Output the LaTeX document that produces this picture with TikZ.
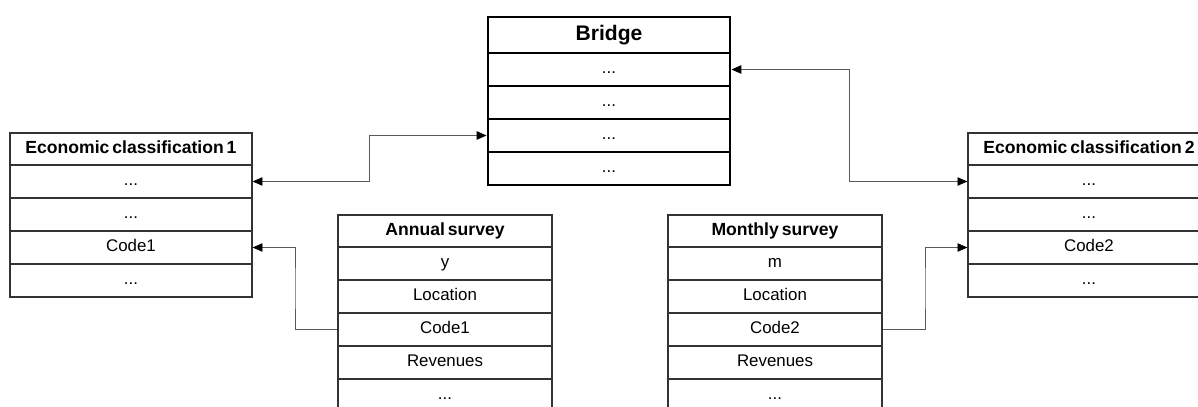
\documentclass[tikz,border=0pt]{standalone}
\usepackage{fontspec}
\setmainfont{Liberation Sans}
\usetikzlibrary{arrows.meta,calc}
\definecolor{tabline}{RGB}{51,51,51}
\definecolor{linkgray}{RGB}{90,90,90}
\newcommand{\tdots}{...}
\newcommand{\headfont}{\fontsize{12.5}{15}\selectfont\bfseries\spaceskip=0.17em\relax}
\tikzset{
  cell/.style={draw=tabline,line width=0.9pt,fill=white,inner sep=0pt,minimum height=0.825cm,
    text height=8.8pt,text depth=2.6pt,font=\fontsize{12}{14}\selectfont},
  headcell/.style={cell,minimum height=0.8cm,font=\headfont},
  brcell/.style={cell,draw=black,line width=2.1pt,minimum width=6.05cm},
  link/.style={draw=linkgray,line width=0.6pt,>={Triangle[length=7pt,width=6pt,color=black]}}
}
\begin{document}
\begin{tikzpicture}
  \useasboundingbox (0,0) rectangle (29.95,10.15);
  % bridge table
  \node[brcell,minimum height=0.9cm,text height=11pt,text depth=3pt,font=\fontsize{15}{18}\selectfont\bfseries] (br0) at (15.225,9.275) {Bridge};
  \foreach \i in {1,2,3,4}
    \node[brcell] (br\i) at (15.225,{8.825-0.4125-(\i-1)*0.825}) {\tdots};
  % classification tables
  \node[headcell,minimum width=6.05cm] (ecA0) at (3.275,6.425) {Economic classification 1};
  \foreach \i/\txt in {1/\tdots,2/\tdots,3/Code1,4/\tdots}
    \node[cell,minimum width=6.05cm] (ecA\i) at (3.275,{6.025-0.4125-(\i-1)*0.825}) {\txt};
  \node[headcell,minimum width=6.05cm] (ecB0) at (27.225,6.425) {Economic classification 2};
  \foreach \i/\txt in {1/\tdots,2/\tdots,3/Code2,4/\tdots}
    \node[cell,minimum width=6.05cm] (ecB\i) at (27.225,{6.025-0.4125-(\i-1)*0.825}) {\txt};
  % survey tables
  \node[headcell,minimum width=5.35cm] (an0) at (11.125,4.375) {Annual survey};
  \foreach \i/\txt in {1/y,2/Location,3/Code1,4/Revenues,5/\tdots}
    \node[cell,minimum width=5.35cm] (an\i) at (11.125,{3.975-0.4125-(\i-1)*0.825}) {\txt};
  \node[headcell,minimum width=5.35cm] (mo0) at (19.375,4.375) {Monthly survey};
  \foreach \i/\txt in {1/m,2/Location,3/Code2,4/Revenues,5/\tdots}
    \node[cell,minimum width=5.35cm] (mo\i) at (19.375,{3.975-0.4125-(\i-1)*0.825}) {\txt};
  % links
  \draw[link,<->] (br3.west) -| ($(br3.west)!0.5!(ecA1.east)$) |- (ecA1.east);
  \draw[link,<->] (br1.east) -| ($(br1.east)!0.5!(ecB1.west)$) |- (ecB1.west);
  \draw[link,->] (an3.west) -| ($(an3.west)!0.5!(ecA3.east)$) |- (ecA3.east);
  \draw[link,->] (mo3.east) -| ($(mo3.east)!0.5!(ecB3.west)$) |- (ecB3.west);
\end{tikzpicture}
\end{document}
